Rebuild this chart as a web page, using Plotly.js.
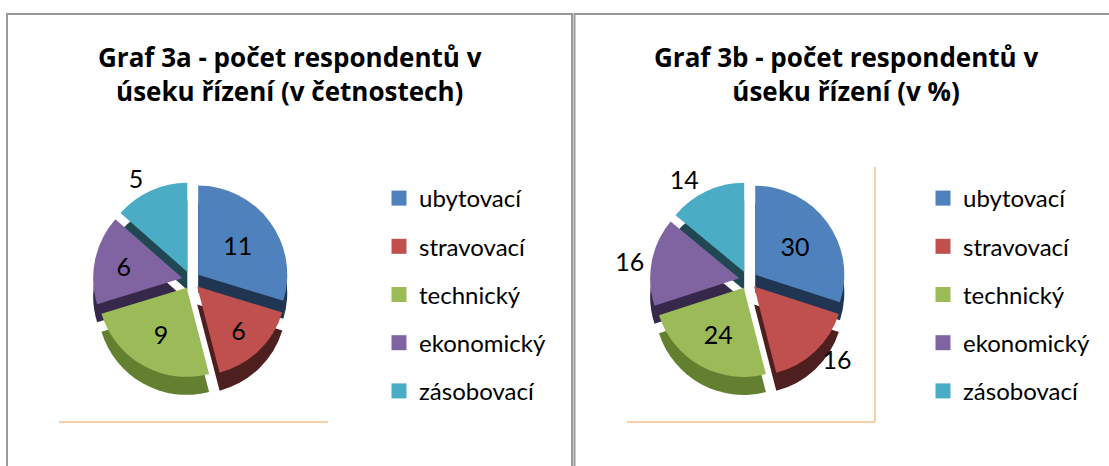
<!DOCTYPE html>
<html>
<head>
<meta charset="utf-8">
<script src="https://cdn.plot.ly/plotly-3.0.1.min.js"></script>
<style>html,body{margin:0;padding:0;background:#fff;}#chart{width:1109px;height:466px;}</style>
</head>
<body>
<div id="chart"></div>
<script>
// ---- data ----
const categories = ['ubytovací', 'stravovací', 'technický', 'ekonomický', 'zásobovací'];
const countsA = [11, 6, 9, 6, 5];          // Graf 3a – četnosti
const percentB = [30, 16, 24, 16, 14];     // Graf 3b – v %
const titleA = 'Graf 3a - počet respondentů v<br>úseku řízení (v četnostech)';
const titleB = 'Graf 3b - počet respondentů v<br>úseku řízení (v %)';

// ---- style ----
const topColors = ['#4F81BD', '#C0504D', '#9BBB59', '#8064A2', '#4BACC6'];
const sideColors = ['#1F3552', '#4E1F1F', '#62802F', '#35284A', '#1F4853'];
const textPosA = ['inside', 'inside', 'inside', 'inside', 'outside'];
const textPosB = ['inside', 'outside', 'inside', 'outside', 'outside'];

const W = 1109, H = 466;
const FONT = 'Lato, "Open Sans", sans-serif';
const TFONT = '"Open Sans", Lato, sans-serif';
const px = v => v / W;
const py = v => 1 - v / H;

const D = 196, depth = 18, pull = 0.1;
function pieDomain(cx, cy) {
  return { x: [px(cx - D / 2), px(cx + D / 2)], y: [py(cy + D / 2), py(cy - D / 2)] };
}
function pieTrace(values, cx, cy, colors, withText, textPos) {
  return {
    type: 'pie', values: values, labels: categories, sort: false,
    direction: 'clockwise', rotation: 0, pull: values.map(() => pull),
    marker: { colors: colors, line: { width: 0 } },
    domain: pieDomain(cx, cy), showlegend: false,
    textinfo: withText ? 'value' : 'none', textposition: withText ? textPos : 'none',
    insidetextorientation: 'horizontal',
    textfont: { family: FONT, size: 25, color: '#000' },
    hoverinfo: withText ? 'label+value' : 'skip'
  };
}

const cA = [191, 280], cB = [748, 280];
const data = [
  pieTrace(countsA, cA[0], cA[1] + depth, sideColors, false),
  pieTrace(countsA, cA[0], cA[1], topColors, true, textPosA),
  pieTrace(percentB, cB[0], cB[1] + depth, sideColors, false),
  pieTrace(percentB, cB[0], cB[1], topColors, true, textPosB)
];
// legend entries (one group per category so the spacing can be set)
['legend', 'legend2'].forEach(function (lg) {
  categories.forEach(function (c, i) {
    data.push({
      type: 'scatter', mode: 'markers', x: [null], y: [null], name: c,
      legend: lg, legendgroup: lg + i, showlegend: true,
      marker: { symbol: 'square', size: 15, color: topColors[i] },
      hoverinfo: 'skip'
    });
  });
});

const legendBase = {
  xanchor: 'left', yanchor: 'top', y: py(176),
  font: { family: FONT, size: 24, color: '#000' },
  tracegroupgap: 14, traceorder: 'grouped', bgcolor: 'rgba(0,0,0,0)',
  borderwidth: 0, itemclick: false, itemdoubleclick: false
};

const layout = {
  width: W, height: H, margin: { l: 0, r: 0, t: 0, b: 0 },
  paper_bgcolor: '#fff', plot_bgcolor: '#fff',
  xaxis: { visible: false }, yaxis: { visible: false },
  legend: Object.assign({}, legendBase, { x: px(379) }),
  legend2: Object.assign({}, legendBase, { x: px(923) }),
  annotations: [
    { text: titleA, x: px(290), y: py(74), xref: 'paper', yref: 'paper', xanchor: 'center', yanchor: 'middle',
      showarrow: false, font: { family: TFONT, size: 26, color: '#000', weight: 'bold' } },
    { text: titleB, x: px(846), y: py(74), xref: 'paper', yref: 'paper', xanchor: 'center', yanchor: 'middle',
      showarrow: false, font: { family: TFONT, size: 26, color: '#000', weight: 'bold' } }
  ],
  shapes: [
    { type: 'rect', xref: 'paper', yref: 'paper', x0: px(7), x1: px(572), y0: -0.2, y1: py(14),
      line: { color: '#9a9a9a', width: 2 }, fillcolor: 'rgba(0,0,0,0)' },
    { type: 'rect', xref: 'paper', yref: 'paper', x0: px(574.5), x1: 1.2, y0: -0.2, y1: py(14),
      line: { color: '#9a9a9a', width: 2 }, fillcolor: 'rgba(0,0,0,0)' },
    { type: 'line', xref: 'paper', yref: 'paper', x0: px(59), x1: px(328), y0: py(422), y1: py(422),
      line: { color: '#F8C08C', width: 1.5 } },
    { type: 'line', xref: 'paper', yref: 'paper', x0: px(627), x1: px(875), y0: py(422), y1: py(422),
      line: { color: '#F8C08C', width: 1.5 } },
    { type: 'line', xref: 'paper', yref: 'paper', x0: px(875), x1: px(875), y0: py(167), y1: py(422),
      line: { color: '#F8C08C', width: 1.5 } }
  ]
};

Plotly.newPlot('chart', data, layout, { displayModeBar: false, staticPlot: true });
</script>
</body>
</html>
